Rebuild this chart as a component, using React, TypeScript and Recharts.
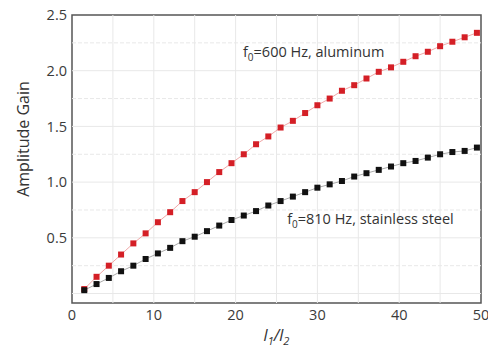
import React from 'react';
import { LineChart, Line, XAxis, YAxis, ReferenceLine, ReferenceArea, ReferenceDot, Label } from 'recharts';

// l1/l2 ratio sampled every 1.5
const ratio = [1.5, 3, 4.5, 6, 7.5, 9, 10.5, 12, 13.5, 15, 16.5, 18, 19.5, 21, 22.5, 24, 25.5, 27, 28.5, 30, 31.5, 33, 34.5, 36, 37.5, 39, 40.5, 42, 43.5, 45, 46.5, 48, 49.5];
const aluminum = [0.04, 0.15, 0.25, 0.35, 0.45, 0.54, 0.64, 0.73, 0.83, 0.91, 1.0, 1.09, 1.17, 1.25, 1.34, 1.41, 1.49, 1.55, 1.62, 1.69, 1.75, 1.82, 1.87, 1.93, 1.99, 2.03, 2.08, 2.13, 2.17, 2.22, 2.26, 2.3, 2.34];
const steel = [0.03, 0.085, 0.14, 0.2, 0.25, 0.31, 0.36, 0.41, 0.47, 0.51, 0.56, 0.61, 0.66, 0.7, 0.74, 0.79, 0.83, 0.87, 0.91, 0.95, 0.98, 1.01, 1.05, 1.08, 1.11, 1.14, 1.17, 1.19, 1.22, 1.25, 1.27, 1.28, 1.31];

const xTicks = [0, 10, 20, 30, 40, 50];
const yTicks = [0.5, 1.0, 1.5, 2.0, 2.5];
const xGrid = [5, 10, 15, 20, 25, 30, 35, 40, 45];
const yGrid = [0, 0.25, 0.5, 0.75, 1.0, 1.25, 1.5, 1.75, 2.0, 2.25];
const yMin = -0.085;

const rows = ratio.map((x, i) => ({ x, al: aluminum[i], ss: steel[i] }));

const font = '"Open Sans", "Noto Sans", sans-serif';

const square = (color: string) => (p: any) => {
    if (p.cx == null || p.cy == null) return null;
    return <rect key={p.key} x={p.cx - 3} y={p.cy - 3} width={6} height={6} fill={color} />;
};

const note = (head: string, rest: string) => (p: any) => {
    const vb = p.viewBox || {};
    return (
        <text x={vb.x} y={vb.y} fontFamily={font} fontSize={14.5} fill="#333">
            {head}
            <tspan fontSize={10} dy={4}>0</tspan>
            <tspan dy={-4}>{rest}</tspan>
        </text>
    );
};

export default function App() {
    return (
        <div style={{ position: 'absolute', left: 0, top: 0, width: 488, height: 351, background: '#fff' }}>
            <LineChart width={488} height={351} data={rows} margin={{ top: 15, right: 7, bottom: 0, left: 12 }}>
                {xGrid.map((v) => (
                    <ReferenceLine key={'vx' + v} x={v} stroke="#e8e8e8" strokeWidth={1} />
                ))}
                {yGrid.map((v) => (
                    <ReferenceLine key={'hy' + v} y={v} stroke="#e8e8e8" strokeWidth={1}
                        strokeDasharray={v * 2 % 1 === 0 ? undefined : '4 2'} />
                ))}
                <XAxis type="number" dataKey="x" domain={[0, 50]} ticks={xTicks} axisLine={false} tickLine={false}
                    tickSize={0} tickMargin={7} height={48} interval={0}
                    tick={{ fill: '#3a3a3a', fontSize: 14.5, fontFamily: font }}>
                    <Label content={(p: any) => {
                        const vb = p.viewBox || {};
                        const cx = vb.x + vb.width / 2;
                        return (
                            <text x={cx} y={341} textAnchor="middle" fontFamily={font} fontSize={16} fill="#333" fontStyle="italic">
                                l<tspan fontSize={11} dy={4}>1</tspan><tspan dy={-4}>/l</tspan><tspan fontSize={11} dy={4}>2</tspan>
                            </text>
                        );
                    }} />
                </XAxis>
                <YAxis type="number" domain={[yMin, 2.5]} ticks={yTicks} axisLine={false} tickLine={false}
                    tickSize={0} tickMargin={5} width={60} interval={0}
                    tickFormatter={(v: number) => v.toFixed(1)}
                    tick={{ fill: '#3a3a3a', fontSize: 14.5, fontFamily: font }}>
                    <Label content={(p: any) => {
                        const vb = p.viewBox || {};
                        const cy = vb.y + vb.height / 2 - 20;
                        const cx = 23;
                        return (
                            <text x={cx} y={cy} transform={`rotate(-90, ${cx}, ${cy})`} textAnchor="middle"
                                dominantBaseline="central" fontFamily={font} fontSize={16} fill="#333">
                                Amplitude Gain
                            </text>
                        );
                    }} />
                </YAxis>
                <ReferenceArea x1={0} x2={50} y1={yMin} y2={2.5} fill="none" stroke="#555" strokeWidth={1.5} />
                <Line dataKey="al" stroke="#f0a8a8" strokeWidth={1} dot={square('#d41f26')} isAnimationActive={false} />
                <Line dataKey="ss" stroke="#aaaaaa" strokeWidth={1} dot={square('#111111')} isAnimationActive={false} />
                <ReferenceDot x={20.9} y={2.12} r={0} stroke="none" label={note('f', '=600 Hz, aluminum')} />
                <ReferenceDot x={26.3} y={0.62} r={0} stroke="none" label={note('f', '=810 Hz, stainless steel')} />
            </LineChart>
        </div>
    );
}
